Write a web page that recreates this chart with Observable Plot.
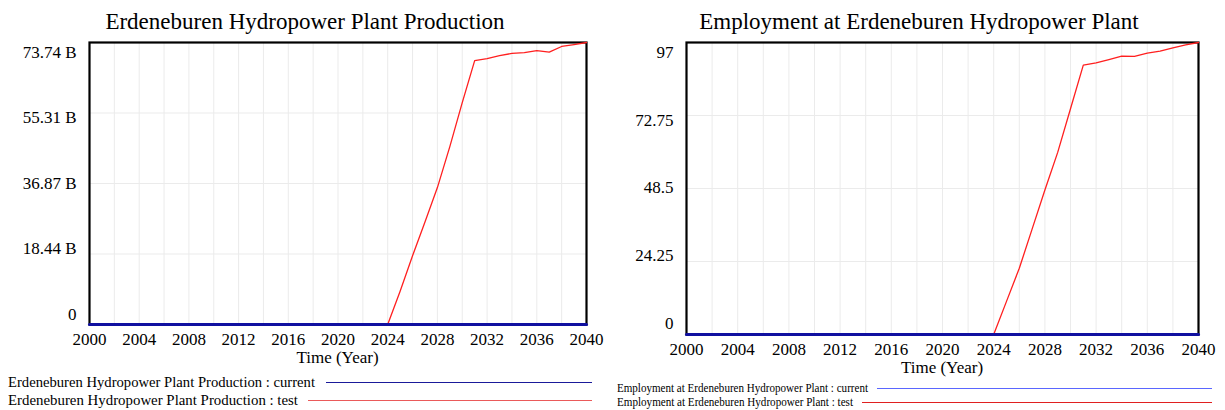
<!DOCTYPE html>
<html><head><meta charset="utf-8">
<script src="https://cdn.jsdelivr.net/npm/d3@7"></script>
<script src="https://cdn.jsdelivr.net/npm/@observablehq/plot@0.6"></script>
<style>
body{margin:0;background:#fff;font-family:"Liberation Serif","Times New Roman",serif;color:#000;}
#page{position:relative;width:1225px;height:410px;overflow:hidden;background:#fff;}
.abs{position:absolute;white-space:nowrap;line-height:normal;}
.title{font-size:23px;text-align:center;}
.xlabel{font-size:17px;text-align:center;}
.legline{position:absolute;height:0;}
svg{position:absolute;}
</style></head><body><div id="page"></div>
<script>
// ---- data ----
const years = [2000,2001,2002,2003,2004,2005,2006,2007,2008,2009,2010,2011,2012,2013,2014,2015,2016,2017,2018,2019,2020,
               2021,2022,2023,2024,2025,2026,2027,2028,2029,2030,2031,2032,2033,2034,2035,2036,2037,2038,2039,2040];
const xTicks = [2000,2004,2008,2012,2016,2020,2024,2028,2032,2036,2040];
const gridYears = [2002,2004,2006,2008,2010,2012,2014,2016,2018,2020,2022,2024,2026,2028,2030,2032,2034,2036,2038];

// Production (billions)
const productionCurrent = [0,0,0,0,0,0,0,0,0,0,0,0,0,0,0,0,0,0,0,0,0,0,0,0,0,0,0,0,0,0,0,0,0,0,0,0,0,0,0,0,0];
const productionTest = [0,0,0,0,0,0,0,0,0,0,0,0,0,0,0,0,0,0,0,0,0,0,0,0,0,
                        8.7,18.0,26.8,35.8,46.5,58.0,69.0,69.5,70.3,70.9,71.1,71.6,71.2,72.7,73.2,73.74];
const productionTicks = [0,18.435,36.87,55.305,73.74];
const productionTickLabels = ["0","18.44 B","36.87 B","55.31 B","73.74 B"];

// Employment
const employmentCurrent = [0,0,0,0,0,0,0,0,0,0,0,0,0,0,0,0,0,0,0,0,0,0,0,0,0,0,0,0,0,0,0,0,0,0,0,0,0,0,0,0,0];
const employmentTest = [0,0,0,0,0,0,0,0,0,0,0,0,0,0,0,0,0,0,0,0,0,0,0,0,0,
                        11,22,35,48,60.5,75,89.5,90.2,91.3,92.5,92.4,93.5,94.1,95.2,96.2,97];
const employmentTicks = [0,24.25,48.5,72.75,97];
const employmentTickLabels = ["0","24.25","48.5","72.75","97"];

const page = document.getElementById("page");

function addText(text, cls, left, top, width, extra, fitWidth) {
  const d = document.createElement("div");
  d.className = "abs " + cls;
  d.textContent = text;
  d.style.left = left + "px";
  d.style.top = top + "px";
  if (width != null) d.style.width = width + "px";
  if (extra) Object.assign(d.style, extra);
  page.appendChild(d);
  if (fitWidth) {
    const w = d.getBoundingClientRect().width;
    if (w > 0) {
      d.style.transformOrigin = "0 0";
      d.style.transform = `scaleX(${fitWidth / w})`;
    }
  }
}
function addLine(x1, x2, y, color, w) {
  const d = document.createElement("div");
  d.className = "legline";
  d.style.left = x1 + "px";
  d.style.width = (x2 - x1) + "px";
  d.style.top = (y - w / 2) + "px";
  d.style.borderTop = w + "px solid " + color;
  page.appendChild(d);
}

function panel(o) {
  const currentRows = years.map((year, i) => ({year, value: o.current[i]}));
  const testRows = years.map((year, i) => ({year, value: o.test[i]}));
  const chart = Plot.plot({
    width: o.width, height: o.height,
    marginLeft: o.ml, marginRight: o.mr, marginTop: o.mt, marginBottom: o.mb,
    style: {fontFamily: "Liberation Serif, Times New Roman, serif", fontSize: "17px", color: "#000", background: "transparent", overflow: "visible"},
    x: {domain: [2000, 2040]},
    y: {domain: [0, o.max]},
    marks: [
      Plot.gridX(gridYears, {stroke: "#ebebeb", strokeOpacity: 1, strokeWidth: 1}),
      Plot.gridY(o.ticks, {stroke: "#ebebeb", strokeOpacity: 1, strokeWidth: 1}),
      Plot.axisX(xTicks, {tickSize: 0, tickPadding: o.xPad, tickFormat: d => String(d), label: null}),
      Plot.axisY(o.ticks, {tickSize: 0, tickPadding: 13, tickFormat: d => o.labels[o.ticks.indexOf(d)], label: null}),
      Plot.frame({stroke: "#000", strokeWidth: 2.2}),
      Plot.lineY(testRows, {x: "year", y: "value", stroke: "#ff1f1f", strokeWidth: 1.3}),
      Plot.lineY(currentRows, {x: "year", y: "value", stroke: "#1010a0", strokeWidth: 3})
    ]
  });
  const texts = chart.querySelectorAll('g[aria-label="y-axis tick label"] text');
  texts.forEach(t => {
    const idx = o.labels.indexOf(t.textContent);
    if (idx < 0) return;
    const f = idx / (o.labels.length - 1);
    const dy = o.dyBottom + (o.dyTop - o.dyBottom) * f;
    t.setAttribute("transform", (t.getAttribute("transform") || "") + ` translate(0,${dy})`);
  });
  chart.style.left = o.left + "px";
  chart.style.top = o.top + "px";
  page.appendChild(chart);
}

// Left panel
addText("Erdeneburen Hydropower Plant Production", "title", 0, 9, 610);
panel({left: 0, top: 30, width: 610, height: 330, ml: 89, mr: 24, mt: 12, mb: 36, xPad: 8,
       max: 73.74, ticks: productionTicks, labels: productionTickLabels,
       current: productionCurrent, test: productionTest, dyBottom: -10, dyTop: 10});
addText("Time (Year)", "xlabel", 89, 348, 497);
addText("Erdeneburen Hydropower Plant Production : current", "", 8, 374, null, {fontSize: "14.7px"}, 307);
addLine(326, 592, 383, "#1a1a9a", 1.5);
addText("Erdeneburen Hydropower Plant Production : test", "", 8, 392, null, {fontSize: "14.7px"}, 290);
addLine(308, 592, 401, "#ea5a5a", 1.5);

// Right panel
addText("Employment at Erdeneburen Hydropower Plant", "title", 612, 9, 614);
panel({left: 610, top: 30, width: 615, height: 340, ml: 76, mr: 27, mt: 12, mb: 36, xPad: 8,
       max: 97, ticks: employmentTicks, labels: employmentTickLabels,
       current: employmentCurrent, test: employmentTest, dyBottom: -11, dyTop: 10});
addText("Time (Year)", "xlabel", 686, 358, 512);
addText("Employment at Erdeneburen Hydropower Plant : current", "", 617, 381, null, {fontSize: "12.4px"}, 251);
addLine(877, 1212, 389, "#5a66ff", 1.3);
addText("Employment at Erdeneburen Hydropower Plant : test", "", 617, 395, null, {fontSize: "12.4px"}, 236);
addLine(862, 1212, 403, "#e02020", 1.2);
</script></body></html>
